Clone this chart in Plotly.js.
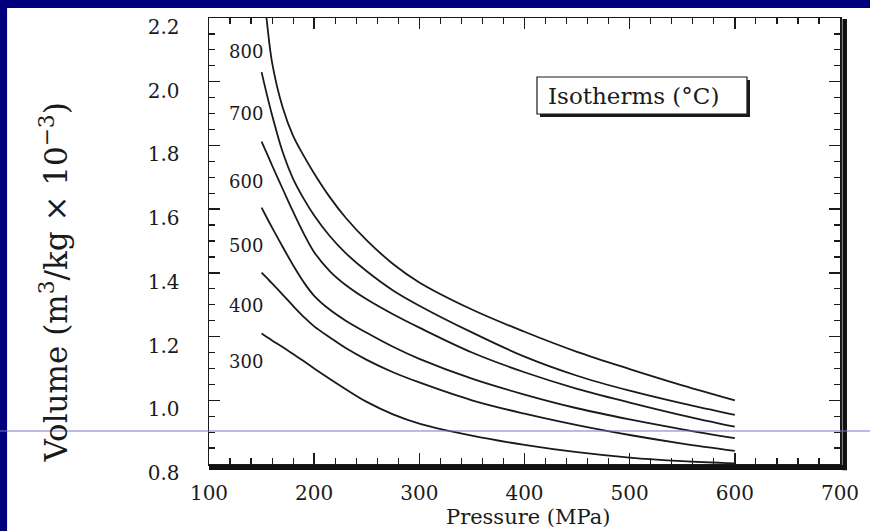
<!DOCTYPE html>
<html>
<head>
<meta charset="utf-8">
<script src="https://cdn.plot.ly/plotly-3.0.1.min.js"></script>
<style>
  html, body { margin: 0; padding: 0; background: #00007c; }
  #chart { width: 870px; height: 531px; }
</style>
</head>
<body>
<div id="chart"></div>
<script>
// Pressure (MPa)
const pressure = [150, 155, 160, 170, 180, 190, 200, 215, 230, 250, 275, 300, 350, 400, 450, 500, 550, 600];
// Specific volume (m3/kg x 10^-3) per isotherm
const v300 = [1.21, 1.199, 1.188, 1.167, 1.145, 1.123, 1.10, 1.067, 1.035, 0.995, 0.956, 0.927, 0.889, 0.86, 0.837, 0.82, 0.809, 0.802];
const v400 = [1.401, 1.384, 1.367, 1.332, 1.296, 1.262, 1.232, 1.197, 1.164, 1.127, 1.088, 1.056, 1.0, 0.958, 0.922, 0.891, 0.864, 0.841];
const v500 = [1.605, 1.573, 1.542, 1.482, 1.424, 1.371, 1.328, 1.284, 1.25, 1.212, 1.168, 1.13, 1.068, 1.018, 0.975, 0.94, 0.909, 0.881];
const v600 = [1.812, 1.775, 1.737, 1.664, 1.592, 1.524, 1.465, 1.405, 1.362, 1.317, 1.27, 1.228, 1.15, 1.088, 1.036, 0.993, 0.953, 0.917];
const v700 = [2.03, 1.96, 1.895, 1.78, 1.695, 1.633, 1.58, 1.515, 1.462, 1.405, 1.345, 1.297, 1.213, 1.137, 1.077, 1.03, 0.99, 0.954];
const v800 = [2.34, 2.19, 2.06, 1.92, 1.83, 1.768, 1.712, 1.637, 1.573, 1.502, 1.428, 1.37, 1.285, 1.215, 1.152, 1.098, 1.047, 1.00];

const isoNames = ["300", "400", "500", "600", "700", "800"];
const isoSeries = [v300, v400, v500, v600, v700, v800];
// isotherm label positions (data coords)
const labelX = [135, 135, 135, 135, 135, 135];
const labelY = [1.123, 1.299, 1.487, 1.686, 1.901, 2.094];

const xTicks = [100, 200, 300, 400, 500, 600, 700];
const yTicks = [0.8, 1.0, 1.2, 1.4, 1.6, 1.8, 2.0, 2.2];

const FONT = "DejaVu Serif, Liberation Serif, serif";
const INK = "#1a1a1a";

const traces = isoSeries.map((vals, i) => ({
  type: "scatter",
  mode: "lines",
  x: pressure,
  y: vals,
  name: isoNames[i],
  line: { color: INK, width: 1.8, shape: "spline", smoothing: 1 },
  showlegend: false,
  hoverinfo: "skip"
}));

const annotations = isoNames.map((n, i) => ({
  xref: "x", yref: "y", x: labelX[i], y: labelY[i],
  text: n, showarrow: false,
  font: { family: FONT, size: 18, color: INK },
  xanchor: "center", yanchor: "middle"
}));

annotations.push({
  xref: "paper", yref: "paper", x: 0.6735, y: 0.826,
  text: "Isotherms (°C)", showarrow: false,
  font: { family: FONT, size: 23, color: INK },
  xanchor: "center", yanchor: "middle"
});
annotations.push({
  xref: "paper", yref: "paper", x: 0.5055, y: -0.1188,
  text: "Pressure (MPa)", showarrow: false,
  font: { family: FONT, size: 21, color: INK },
  xanchor: "center", yanchor: "middle"
});
annotations.push({
  xref: "paper", yref: "paper", x: -0.2456, y: 0.407,
  text: "Volume (m<sup>3</sup>/kg × 10<sup>−3</sup>)", showarrow: false,
  textangle: -90,
  font: { family: FONT, size: 31, color: INK },
  xanchor: "center", yanchor: "middle"
});

const shapes = [
  // white slide panel
  { type: "rect", xref: "paper", yref: "paper", layer: "below",
    x0: -0.32, x1: 1.07, y0: -0.17, y1: 1.0224,
    fillcolor: "white", line: { width: 0 } },
  // thick bottom frame
  { type: "line", xref: "paper", yref: "paper", layer: "above",
    x0: 0, x1: 1.011, y0: -0.0078, y1: -0.0078,
    line: { color: "#111", width: 5 } },
  // thick right frame
  { type: "line", xref: "paper", yref: "paper", layer: "above",
    x0: 1.0075, x1: 1.0075, y0: -0.014, y1: 0.998,
    line: { color: "#111", width: 4.5 } },
  // legend box shadow
  { type: "rect", xref: "paper", yref: "paper", layer: "above",
    x0: 0.5246, x1: 0.8574, y0: 0.778, y1: 0.861,
    fillcolor: INK, line: { width: 0 } },
  // legend box
  { type: "rect", xref: "paper", yref: "paper", layer: "above",
    x0: 0.5198, x1: 0.8526, y0: 0.7848, y1: 0.8677,
    fillcolor: "white", line: { color: INK, width: 1.2 } },
  // thin horizontal slide line
  { type: "line", xref: "paper", yref: "paper", layer: "above",
    x0: -0.34, x1: 1.07, y0: 0.074, y1: 0.074,
    line: { color: "rgb(120,120,200)", width: 1 } }
];

const layout = {
  width: 870, height: 531,
  margin: { l: 209, r: 30, t: 18, b: 67, pad: 0 },
  paper_bgcolor: "#00007c",
  plot_bgcolor: "white",
  font: { family: FONT, color: INK },
  xaxis: {
    range: [100, 700], tickvals: xTicks, ticktext: xTicks.map(String),
    showgrid: false, zeroline: false,
    showline: true, linecolor: INK, linewidth: 1.5, mirror: "allticks",
    ticks: "inside", ticklen: 11, tickwidth: 1.4, tickcolor: INK,
    minor: { dtick: 20, ticks: "inside", ticklen: 6, tickwidth: 1.2, tickcolor: INK, showgrid: false },
    tickfont: { family: FONT, size: 20, color: INK },
    ticklabelstandoff: 10
  },
  yaxis: {
    range: [0.8, 2.2], tickvals: yTicks, ticktext: yTicks.map(v => v.toFixed(1)),
    showgrid: false, zeroline: false,
    showline: true, linecolor: INK, linewidth: 1.5, mirror: "allticks",
    ticks: "inside", ticklen: 11, tickwidth: 1.4, tickcolor: INK,
    minor: { dtick: 0.05, ticks: "inside", ticklen: 6, tickwidth: 1.2, tickcolor: INK, showgrid: false },
    tickfont: { family: FONT, size: 20, color: INK },
    ticklabelstandoff: 24,
    ticklabelshift: 9
  },
  shapes: shapes,
  annotations: annotations,
  showlegend: false
};

Plotly.newPlot("chart", traces, layout, { displayModeBar: false, staticPlot: true });
</script>
</body>
</html>
